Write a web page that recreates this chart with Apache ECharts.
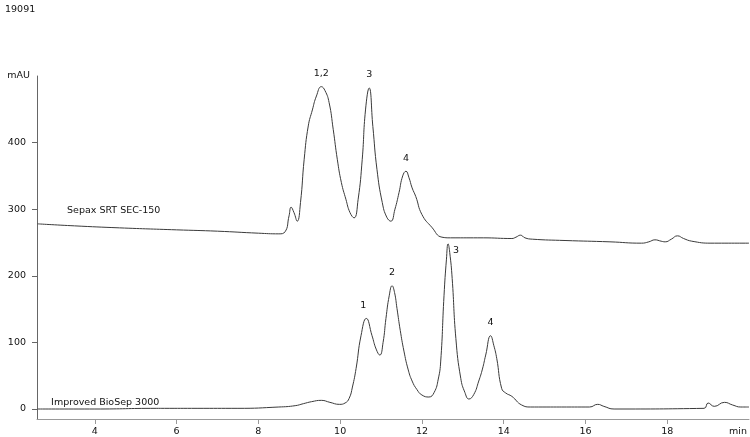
<!DOCTYPE html>
<html>
<head>
<meta charset="utf-8">
<script src="https://cdn.jsdelivr.net/npm/echarts@6/dist/echarts.min.js"></script>
<style>
  html, body { margin: 0; padding: 0; background: #fff; }
  #chart { width: 750px; height: 437px; }
</style>
</head>
<body>
<div id="chart"></div>
<script>
// retention time (min) / absorbance (mAU)
const sepaxTime = [2.6, 3.5, 4.6, 6.0, 7.0, 8.0, 8.5, 8.65, 8.75, 8.8, 8.87, 8.95, 9.03, 9.12, 9.22, 9.32, 9.42, 9.54, 9.63, 9.73, 9.83, 9.93, 10.03, 10.14, 10.24, 10.34, 10.44, 10.54, 10.62, 10.71, 10.8, 10.9, 11.03, 11.14, 11.24, 11.34, 11.44, 11.53, 11.61, 11.68, 11.76, 11.85, 12.0, 12.24, 12.49, 12.7, 13.5, 14.2, 14.3, 14.41, 14.52, 14.7, 15.5, 16.6, 17.37, 17.55, 17.7, 17.85, 17.95, 18.1, 18.25, 18.4, 18.6, 19.07, 20.0]
const sepaxSignal = [278, 275, 272, 269, 267, 264, 263, 266, 290, 303, 295, 282, 310, 375, 425, 449, 470, 484, 478, 460, 420, 375, 340, 315, 295, 287, 315, 375, 449, 482, 424, 360, 310, 288, 282, 300, 325, 350, 357, 348, 332, 319, 292, 273, 258, 257, 257, 256, 258, 261, 257, 255, 253, 251, 249, 251, 254, 252, 251, 255, 260, 256, 252, 249, 249]

const biosepTime = [2.6, 4.0, 5.5, 5.7, 6.5, 7.5, 8.5, 8.9, 9.1, 9.3, 9.54, 9.75, 9.98, 10.12, 10.22, 10.3, 10.39, 10.51, 10.64, 10.78, 10.88, 10.97, 11.05, 11.12, 11.2, 11.27, 11.33, 11.39, 11.47, 11.56, 11.66, 11.76, 11.88, 12.0, 12.17, 12.3, 12.4, 12.46, 12.54, 12.6, 12.64, 12.68, 12.74, 12.83, 12.95, 13.05, 13.15, 13.27, 13.39, 13.48, 13.56, 13.68, 13.76, 13.83, 13.95, 14.05, 14.2, 14.44, 14.66, 14.85, 16.1, 16.3, 16.45, 16.7, 18.9, 19.0, 19.15, 19.4, 19.6, 19.8, 20.0]
const biosepSignal = [0, 0, 1, 1, 1, 1, 3, 5, 8, 11, 13, 10, 7, 9, 16, 33, 61, 110, 136, 110, 90, 81, 100, 136, 170, 185, 175, 151, 118, 87, 60, 42, 29, 21, 18, 25, 45, 72, 170, 225, 248, 235, 196, 106, 46, 25, 15, 22, 42, 60, 81, 110, 95, 76, 31, 24, 19, 6, 3, 3, 3, 7, 4, 0, 1, 9, 4, 10, 6, 3, 3]

// peak annotations
const sepaxPeakTime = [9.54, 10.71, 11.61]
const sepaxPeakHeight = [484, 482, 357]
const sepaxPeakName = ['1,2', '3', '4']
const biosepPeakTime = [10.64, 11.27, 12.64, 13.68]
const biosepPeakHeight = [136, 185, 248, 110]
const biosepPeakName = ['1', '2', '3', '4']

const xTicks = [4, 6, 8, 10, 12, 14, 16, 18]
const yTicks = [0, 100, 200, 300, 400]

const font = 'DejaVu Sans'
const lineColor = '#3a3a3a'

function pairs(xs, ys) {
  return xs.map((x, i) => [x, ys[i]])
}

function peakMarks(times, heights, names) {
  return times.map((t, i) => ({ name: names[i], coord: [t, heights[i]] }))
}

const chart = echarts.init(document.getElementById('chart'))

const option = {
  animation: false,
  title: {
    text: '19091',
    left: 0,
    top: 0,
    textStyle: { fontFamily: font, fontSize: 9.5, fontWeight: 'normal', color: '#111' }
  },
  grid: { left: 37, right: 0, top: 76, bottom: 15 },
  xAxis: {
    type: 'value',
    min: 2.585,
    max: 20,
    name: 'min',
    nameLocation: 'end',
    nameGap: -2,
    nameTextStyle: { fontFamily: font, fontSize: 9.5, color: '#111', align: 'right', verticalAlign: 'top', padding: [8, 0, 0, 0] },
    splitLine: { show: false },
    axisLine: { onZero: false, lineStyle: { color: '#999' } },
    axisTick: { customValues: xTicks, length: 5, lineStyle: { color: '#999' } },
    axisLabel: { customValues: xTicks, fontFamily: font, fontSize: 9.5, color: '#111', margin: 8 }
  },
  yAxis: {
    type: 'value',
    min: -15,
    max: 500,
    name: 'mAU',
    nameLocation: 'end',
    nameGap: 0,
    nameTextStyle: { fontFamily: font, fontSize: 9.5, color: '#111', align: 'right', verticalAlign: 'middle', padding: [0, 7, 0, 0] },
    splitLine: { show: false },
    axisLine: { show: true, lineStyle: { color: '#666' } },
    axisTick: { show: true, customValues: yTicks, length: 5, lineStyle: { color: '#666' } },
    axisLabel: { customValues: yTicks, fontFamily: font, fontSize: 9.5, color: '#111', margin: 11 }
  },
  series: [
    {
      name: 'Sepax SRT SEC-150',
      type: 'line',
      data: pairs(sepaxTime, sepaxSignal),
      showSymbol: false,
      smooth: 0.5,
      lineStyle: { color: lineColor, width: 1 },
      markPoint: {
        symbol: 'circle',
        symbolSize: 0,
        silent: true,
        label: { show: true, position: 'top', distance: 8, formatter: '{b}', fontFamily: font, fontSize: 9.5, color: '#111' },
        data: peakMarks(sepaxPeakTime, sepaxPeakHeight, sepaxPeakName).concat([
          { name: 'Sepax SRT SEC-150', coord: [3.32, 298], label: { position: 'right', distance: 0 } }
        ])
      }
    },
    {
      name: 'Improved BioSep 3000',
      type: 'line',
      data: pairs(biosepTime, biosepSignal),
      showSymbol: false,
      smooth: 0.5,
      lineStyle: { color: lineColor, width: 1 },
      markPoint: {
        symbol: 'circle',
        symbolSize: 0,
        silent: true,
        label: { show: true, position: 'top', distance: 8, formatter: '{b}', fontFamily: font, fontSize: 9.5, color: '#111' },
        data: peakMarks(biosepPeakTime, biosepPeakHeight, biosepPeakName).map((d, i) => {
          if (i === 0) d.label = { offset: [-3, 0] }
          if (i === 2) d.label = { position: 'right', distance: 5, offset: [0, 7] }
          return d
        }).concat([
          { name: 'Improved BioSep 3000', coord: [2.93, 10.4], label: { position: 'right', distance: 0 } }
        ])
      }
    }
  ]
}

option && chart.setOption(option)
</script>
</body>
</html>
